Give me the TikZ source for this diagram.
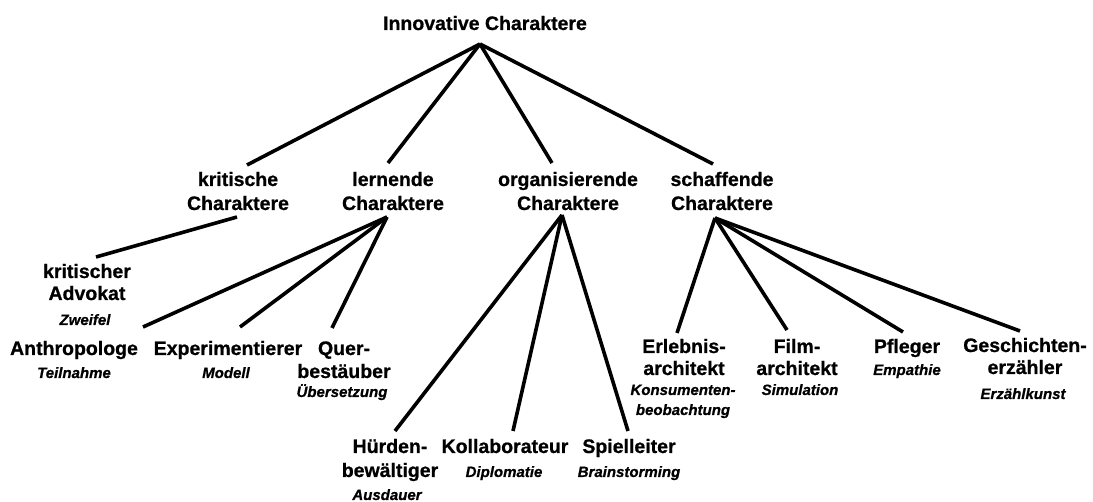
\documentclass[tikz,border=0pt]{standalone}
\usepackage{fontspec}
\setmainfont{Liberation Sans}[BoldFeatures={FakeBold=0.8},BoldItalicFeatures={FakeBold=0.8}]
\newcommand\mlines[1]{\begin{tabular}[t]{@{}c@{}}#1\end{tabular}}
\begin{document}
\begin{tikzpicture}[x=1pt,y=-1pt,
  ttl/.style={font=\bfseries\fontsize{19.5}{23}\selectfont, inner sep=0pt, anchor=base},
  sub/.style={font=\bfseries\itshape\fontsize{15}{20}\selectfont, inner sep=0pt, anchor=base},
  link/.style={line width=3.6pt}]
\useasboundingbox (0,0) rectangle (1093,502);
% root
\node[ttl] (root) at (485,30) {Innovative Charaktere};
% level 2
\node[ttl] (krit) at (238,186) {\mlines{kritische\\[1pt]Charaktere}};
\node[ttl] (lern) at (393,186) {\mlines{lernende\\[1pt]Charaktere}};
\node[ttl] (org) at (568,186) {\mlines{organisierende\\[1pt]Charaktere}};
\node[ttl] (schaff) at (722,186) {\mlines{schaffende\\[1pt]Charaktere}};
% kritische
\node[ttl] (advokat) at (87,278) {\mlines{kritischer\\[-1pt]Advokat}};
\node[sub] (advokat-s) at (85,325) {Zweifel};
% lernende
\node[ttl] (anthro) at (74,355) {Anthropologe};
\node[sub] (anthro-s) at (74,378) {Teilnahme};
\node[ttl] (experim) at (228,355) {Experimentierer};
\node[sub] (experim-s) at (226,378) {Modell};
\node[ttl] (quer) at (344,355) {\mlines{Quer-\\bestäuber}};
\node[sub] (quer-s) at (342,397) {Übersetzung};
% organisierende
\node[ttl] (huerden) at (390,453) {\mlines{Hürden-\\[1pt]bewältiger}};
\node[sub] (huerden-s) at (387,500) {Ausdauer};
\node[ttl] (kollab) at (505,453) {Kollaborateur};
\node[sub] (kollab-s) at (504,477) {Diplomatie};
\node[ttl] (spiel) at (629,453) {Spielleiter};
\node[sub] (spiel-s) at (629,477) {Brainstorming};
% schaffende
\node[ttl] (erlebnis) at (684,353) {\mlines{Erlebnis-\\[-1pt]architekt}};
\node[sub] (erlebnis-s) at (683,395) {\mlines{Konsumenten-\\beobachtung}};
\node[ttl] (film) at (797,353) {\mlines{Film-\\[-1pt]architekt}};
\node[sub] (film-s) at (800,395) {Simulation};
\node[ttl] (pfleger) at (907,353) {Pfleger};
\node[sub] (pfleger-s) at (907,375) {Empathie};
\node[ttl] (gesch) at (1025,352) {\mlines{Geschichten-\\[-1pt]erzähler}};
\node[sub] (gesch-s) at (1023,399) {Erzählkunst};
% connectors
\draw[link] ([shift={(-5,14)}]root.base) -- ([shift={(9,-21)}]krit.base);
\draw[link] ([shift={(-5,14)}]root.base) -- ([shift={(-5,-23)}]lern.base);
\draw[link] ([shift={(-5,14)}]root.base) -- ([shift={(-16,-23)}]org.base);
\draw[link] ([shift={(-5,14)}]root.base) -- ([shift={(-9,-22)}]schaff.base);
\draw[link] ([shift={(-1,31)}]krit.base) -- ([shift={(9,-21)}]advokat.base);
\draw[link] ([shift={(-6,31)}]lern.base) -- ([shift={(69,-28)}]anthro.base);
\draw[link] ([shift={(-6,31)}]lern.base) -- ([shift={(12,-28)}]experim.base);
\draw[link] ([shift={(-6,31)}]lern.base) -- ([shift={(-12,-27)}]quer.base);
\draw[link] ([shift={(-6,29)}]org.base) -- ([shift={(5,-22)}]huerden.base);
\draw[link] ([shift={(-6,29)}]org.base) -- ([shift={(8,-22)}]kollab.base);
\draw[link] ([shift={(-6,29)}]org.base) -- ([shift={(-1,-22)}]spiel.base);
\draw[link] ([shift={(-7,32)}]schaff.base) -- ([shift={(-7,-20)}]erlebnis.base);
\draw[link] ([shift={(-7,32)}]schaff.base) -- ([shift={(-10,-23)}]film.base);
\draw[link] ([shift={(-7,32)}]schaff.base) -- ([shift={(-4,-21)}]pfleger.base);
\draw[link] ([shift={(-7,32)}]schaff.base) -- ([shift={(-5,-21)}]gesch.base);
\end{tikzpicture}
\end{document}
